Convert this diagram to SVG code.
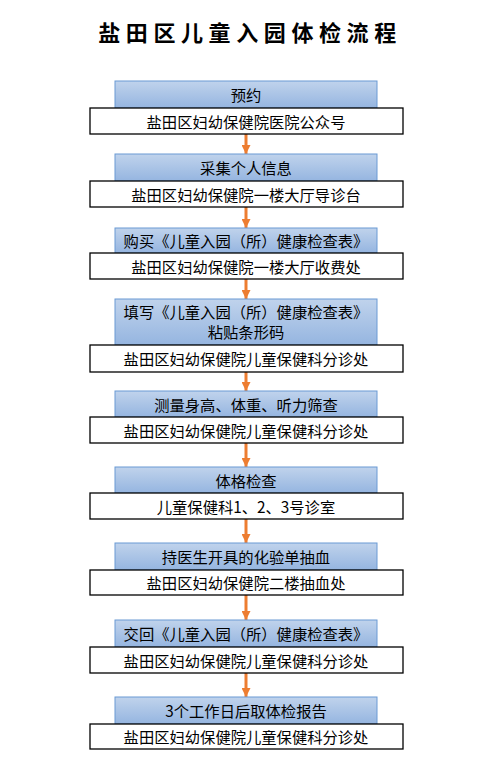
<svg xmlns="http://www.w3.org/2000/svg" width="488" height="761" viewBox="0 0 488 761">
<defs>
<linearGradient id="bg" x1="0" y1="0" x2="0" y2="1">
<stop offset="0" stop-color="#c0d3ec"/>
<stop offset="1" stop-color="#95b5e0"/>
</linearGradient>
<marker id="ah" markerWidth="10" markerHeight="9" refX="9" refY="4.5" orient="auto" markerUnits="userSpaceOnUse">
<path d="M0,0 L9,4.5 L0,9 Z" fill="#ed7d31"/>
</marker>
</defs>
<style>
.b{fill:url(#bg);stroke:#6a9ad4;stroke-width:1}
.w{fill:#fff;stroke:#000;stroke-width:1.3}
.t{font-family:"Noto Sans CJK SC","Microsoft YaHei",sans-serif;font-size:15.3px;fill:#000;text-anchor:middle;dominant-baseline:central}
.c{stroke:#ed7d31;stroke-width:3;fill:none}
.title{font-family:"Noto Sans CJK SC",serif;font-weight:bold;font-size:22px;letter-spacing:5.6px;text-anchor:middle;fill:#000}
</style>
<rect width="488" height="761" fill="#fff"/>
<text class="title" x="250" y="41">盐田区儿童入园体检流程</text>
<g id="connectors">
<line class="c" x1="246" y1="134" x2="246" y2="154" marker-end="url(#ah)"/>
<line class="c" x1="246" y1="207" x2="246" y2="228" marker-end="url(#ah)"/>
<line class="c" x1="246" y1="279" x2="246" y2="299" marker-end="url(#ah)"/>
<line class="c" x1="246" y1="372" x2="246" y2="391" marker-end="url(#ah)"/>
<line class="c" x1="246" y1="443" x2="246" y2="467" marker-end="url(#ah)"/>
<line class="c" x1="246" y1="519" x2="246" y2="543" marker-end="url(#ah)"/>
<line class="c" x1="246" y1="595" x2="246" y2="620" marker-end="url(#ah)"/>
<line class="c" x1="246" y1="673" x2="246" y2="697" marker-end="url(#ah)"/>
</g>
<g id="n1"><rect class="b" x="115" y="81" width="262" height="27"/><rect class="w" x="90" y="108" width="313" height="26"/>
<text class="t" x="246" y="94">预约</text><text class="t" x="246" y="121">盐田区妇幼保健院医院公众号</text></g>
<g id="n2"><rect class="b" x="115" y="154" width="262" height="27"/><rect class="w" x="90" y="181" width="313" height="26"/>
<text class="t" x="246" y="167">采集个人信息</text><text class="t" x="246" y="194">盐田区妇幼保健院一楼大厅导诊台</text></g>
<g id="n3"><rect class="b" x="115" y="228" width="262" height="25"/><rect class="w" x="90" y="253" width="313" height="26"/>
<text class="t" x="246" y="240">购买《儿童入园（所）健康检查表》</text><text class="t" x="246" y="266">盐田区妇幼保健院一楼大厅收费处</text></g>
<g id="n4"><rect class="b" x="115" y="299" width="262" height="46"/><rect class="w" x="90" y="345" width="313" height="27"/>
<text class="t" x="246" y="311">填写《儿童入园（所）健康检查表》</text><text class="t" x="246" y="331">粘贴条形码</text><text class="t" x="246" y="358">盐田区妇幼保健院儿童保健科分诊处</text></g>
<g id="n5"><rect class="b" x="115" y="391" width="262" height="26"/><rect class="w" x="90" y="417" width="313" height="26"/>
<text class="t" x="246" y="404">测量身高、体重、听力筛查</text><text class="t" x="246" y="430">盐田区妇幼保健院儿童保健科分诊处</text></g>
<g id="n6"><rect class="b" x="115" y="467" width="262" height="26"/><rect class="w" x="90" y="493" width="313" height="26"/>
<text class="t" x="246" y="480">体格检查</text><text class="t" x="246" y="506">儿童保健科1、2、3号诊室</text></g>
<g id="n7"><rect class="b" x="115" y="543" width="262" height="27"/><rect class="w" x="90" y="570" width="313" height="25"/>
<text class="t" x="246" y="556">持医生开具的化验单抽血</text><text class="t" x="246" y="582">盐田区妇幼保健院二楼抽血处</text></g>
<g id="n8"><rect class="b" x="115" y="620" width="262" height="27"/><rect class="w" x="90" y="647" width="313" height="26"/>
<text class="t" x="246" y="633">交回《儿童入园（所）健康检查表》</text><text class="t" x="246" y="660">盐田区妇幼保健院儿童保健科分诊处</text></g>
<g id="n9"><rect class="b" x="115" y="697" width="262" height="27"/><rect class="w" x="90" y="724" width="313" height="25"/>
<text class="t" x="246" y="710">3个工作日后取体检报告</text><text class="t" x="246" y="736">盐田区妇幼保健院儿童保健科分诊处</text></g>
</svg>
